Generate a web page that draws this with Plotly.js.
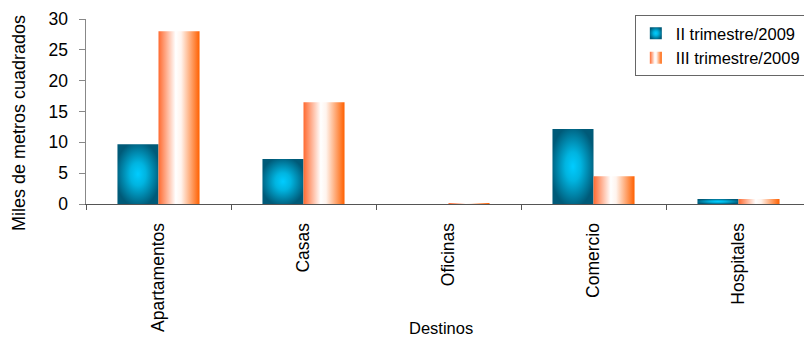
<!DOCTYPE html>
<html>
<head>
<meta charset="utf-8">
<script src="https://cdn.plot.ly/plotly-3.0.1.min.js"></script>
<style>
html, body { margin: 0; padding: 0; overflow: hidden; background: #fff; width: 804px; height: 338px; }
#chart { width: 830px; height: 338px; }
</style>
</head>
<body>
<div id="chart"></div>
<script>
const categories = ["Apartamentos", "Casas", "Oficinas", "Comercio", "Hospitales"];
const seriesNames = ["II trimestre/2009", "III trimestre/2009"];
const trim2 = [9.7, 7.3, 0, 12.15, 0.8];
const trim3 = [28.0, 16.5, 0.15, 4.5, 0.8];
const yTicks = [0, 5, 10, 15, 20, 25, 30];
const yTitle = "Miles de metros cuadrados";
const xTitle = "Destinos";

const FONT = "Liberation Sans, Arial, sans-serif";

const data = [
  { type: "bar", name: seriesNames[0], x: categories, y: trim2,
    marker: { color: "#0090B0", line: { width: 0 } } },
  { type: "bar", name: seriesNames[1], x: categories, y: trim3,
    marker: { color: "#FF9966", line: { width: 0 } } }
];

const layout = {
  width: 830, height: 338,
  margin: { l: 86, r: 19, t: 19, b: 134 },
  paper_bgcolor: "#fff", plot_bgcolor: "#fff",
  font: { family: FONT, color: "#000", size: 16 },
  barmode: "group", bargap: 0.434, bargroupgap: 0,
  showlegend: true,
  legend: {
    x: 0.757, y: 1.0216, xanchor: "left", yanchor: "top",
    bordercolor: "#666", borderwidth: 1, bgcolor: "#fff",
    font: { family: FONT, size: 16.5, color: "#000" },
    tracegroupgap: 0, itemwidth: 30
  },
  xaxis: {
    type: "category", showgrid: false, zeroline: false,
    showline: true, linecolor: "#555", linewidth: 1,
    ticks: "outside", tickson: "boundaries", ticklen: 5, tickcolor: "#555",
    tickangle: -90, ticklabelstandoff: 11,
    tickfont: { family: FONT, size: 17.5, color: "#000" },
    automargin: false
  },
  yaxis: {
    range: [0, 30], tickvals: yTicks, ticktext: yTicks.map(String),
    showgrid: false, zeroline: false,
    showline: true, linecolor: "#888", linewidth: 1.5,
    ticks: "outside", ticklen: 6, tickcolor: "#888",
    ticklabelstandoff: 7,
    tickfont: { family: FONT, size: 17.5, color: "#000" },
    automargin: false
  },
  annotations: [
    { text: xTitle, xref: "paper", yref: "paper", x: 0.49, y: -0.67,
      xanchor: "center", yanchor: "middle", showarrow: false,
      font: { family: FONT, size: 16.5, color: "#000" } },
    { text: yTitle, xref: "paper", yref: "paper", x: -0.0924, y: 0.438,
      xanchor: "center", yanchor: "middle", textangle: -90, showarrow: false,
      font: { family: FONT, size: 18, color: "#000" } }
  ]
};

function applyGradients(gd) {
  const svg = gd.querySelector("svg.main-svg");
  const NS = "http://www.w3.org/2000/svg";
  let defs = svg.querySelector("defs");
  if (!defs) { defs = document.createElementNS(NS, "defs"); svg.insertBefore(defs, svg.firstChild); }

  const rad = document.createElementNS(NS, "radialGradient");
  rad.setAttribute("id", "gradTeal");
  rad.setAttribute("cx", "0.5"); rad.setAttribute("cy", "0.5"); rad.setAttribute("r", "0.55");
  [["0", "#00CCFF"], ["0.35", "#00B4E0"], ["1", "#005A78"]].forEach(([o, c]) => {
    const s = document.createElementNS(NS, "stop");
    s.setAttribute("offset", o); s.setAttribute("stop-color", c); rad.appendChild(s);
  });
  defs.appendChild(rad);

  const lin = document.createElementNS(NS, "linearGradient");
  lin.setAttribute("id", "gradOrange");
  lin.setAttribute("x1", "0"); lin.setAttribute("y1", "0"); lin.setAttribute("x2", "1"); lin.setAttribute("y2", "0");
  [["0", "#FF6A30"], ["0.42", "#FFFFFF"], ["0.55", "#FFF4EE"], ["1", "#FF6000"]].forEach(([o, c]) => {
    const s = document.createElementNS(NS, "stop");
    s.setAttribute("offset", o); s.setAttribute("stop-color", c); lin.appendChild(s);
  });
  defs.appendChild(lin);

  const ids = ["url(#gradTeal)", "url(#gradOrange)"];
  gd.querySelectorAll(".barlayer .trace.bars").forEach((t, i) => {
    t.querySelectorAll("path").forEach(p => { p.style.fill = ids[i]; });
  });
  gd.querySelectorAll(".legend .traces").forEach((t, i) => {
    t.querySelectorAll(".legendpoints path").forEach(p => { p.style.fill = ids[i]; p.style.stroke = "none"; });
  });
}

Plotly.newPlot("chart", data, layout, { displayModeBar: false, staticPlot: true })
  .then(applyGradients);
</script>
</body>
</html>
